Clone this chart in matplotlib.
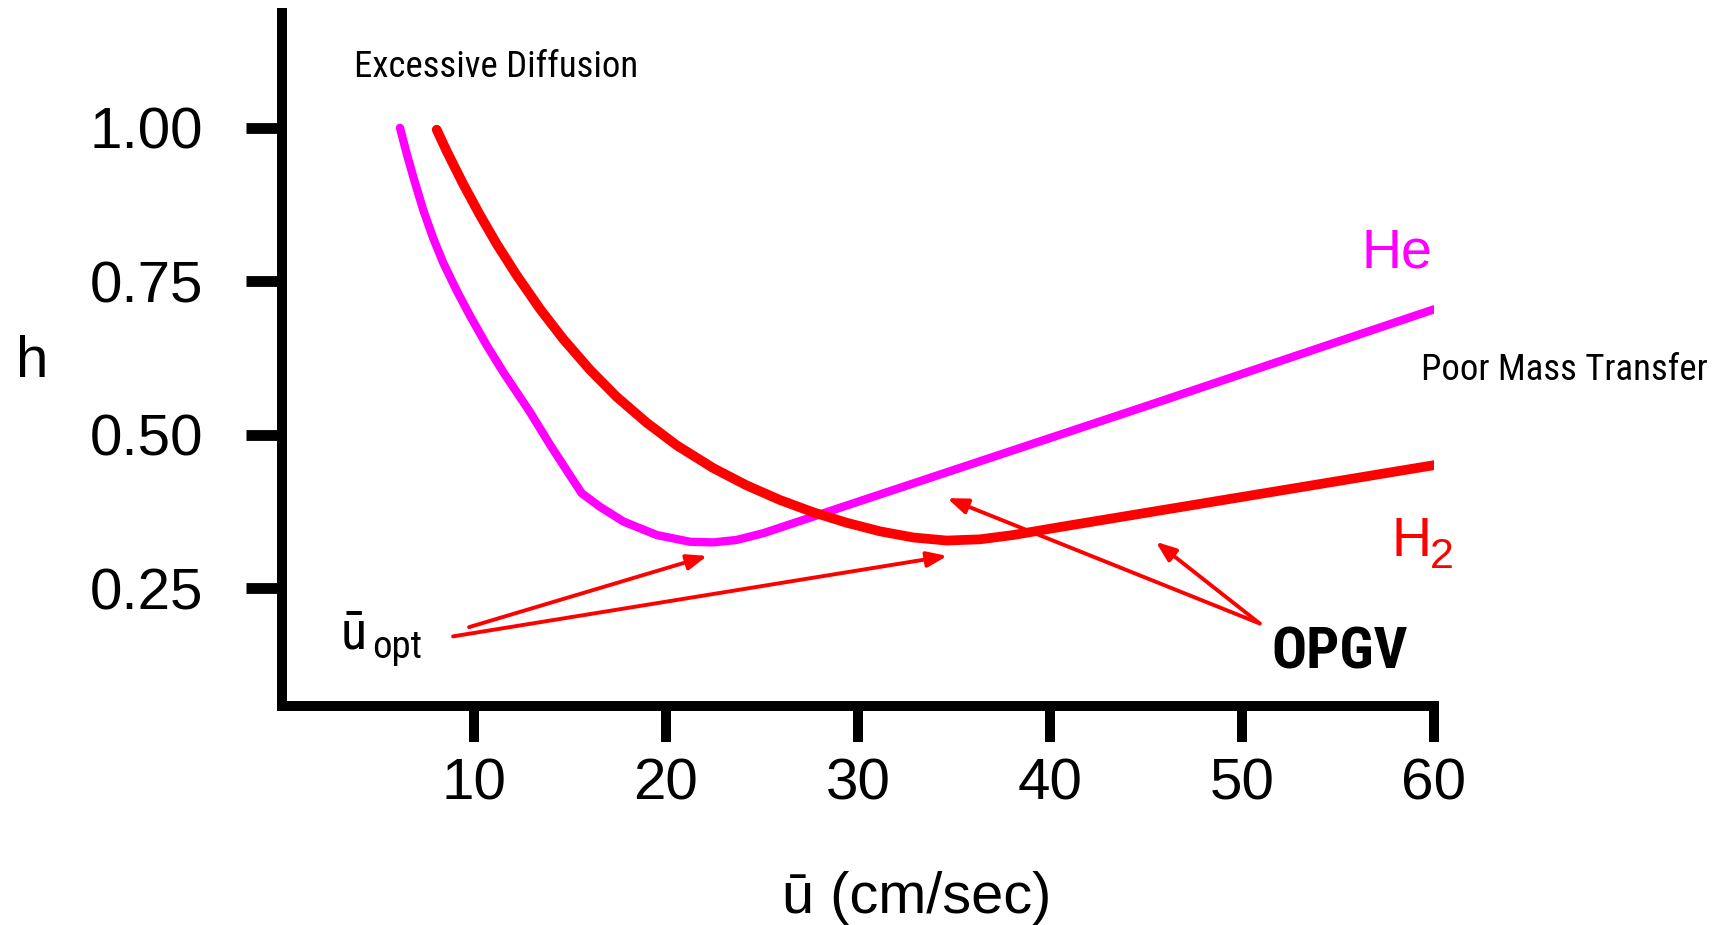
import matplotlib
matplotlib.use("Agg")
import matplotlib.pyplot as plt
from matplotlib import font_manager

# ---------------- data ----------------
he_u = [6.146, 6.495, 6.839, 7.359, 7.880, 8.401, 9.099, 9.792, 10.66, 11.53,
        12.92, 13.96, 15.00, 15.61, 16.56, 17.78, 19.52, 21.25, 22.46, 23.68, 25.07,
        45.21, 60.05]
he_h = [1.000, 0.958, 0.920, 0.866, 0.820, 0.780, 0.735, 0.694, 0.646, 0.602,
        0.537, 0.484, 0.434, 0.405, 0.383, 0.359, 0.337, 0.326, 0.325, 0.329, 0.340,
        0.549, 0.705]

h2_u = [8.057, 8.578, 9.443, 10.31, 11.18, 12.22, 13.44, 14.65, 16.04, 17.43, 18.99,
        20.56, 22.46, 24.19, 25.94, 27.67, 29.41, 31.15, 32.88, 34.62, 36.35, 38.09,
        40.52, 60.05]
h2_h = [0.997, 0.962, 0.908, 0.858, 0.811, 0.760, 0.705, 0.656, 0.606, 0.562, 0.520,
        0.483, 0.446, 0.418, 0.394, 0.374, 0.357, 0.343, 0.333, 0.328, 0.330, 0.337,
        0.350, 0.451]

x_ticks = [10, 20, 30, 40, 50, 60]
x_ticklabels = ["10", "20", "30", "40", "50", "60"]
y_ticks = [0.25, 0.50, 0.75, 1.00]
y_ticklabels = ["0.25", "0.50", "0.75", "1.00"]

# arrows: (tail_u, tail_h) -> (tip_u, tip_h)
uopt_tails = [(9.74, 0.187), (8.91, 0.172)]
uopt_tips = [(22.15, 0.303), (34.65, 0.303)]
opgv_tail = (50.92, 0.193)
opgv_tips = [(34.65, 0.397), (45.51, 0.326)]

# ---------------- fonts ----------------
names = {f.name for f in font_manager.fontManager.ttflist}
REG = "Liberation Sans" if "Liberation Sans" in names else "DejaVu Sans"
NARROW = None
for cand in ["Liberation Sans Narrow", "Roboto Condensed", "Open Sans Condensed",
             "DejaVu Sans Condensed"]:
    if cand in names:
        NARROW = cand
        break
narrow_scale = 1.0
if NARROW is None:
    NARROW = REG
    narrow_scale = 0.85

# ---------------- figure ----------------
W, H = 1714, 925
fig = plt.figure(figsize=(W / 100, H / 100), dpi=100)
ax = fig.add_axes([282 / W, 1 - 706 / H, (1434 - 282) / W, (706 - 13) / H])
ax.set_xlim(0, 60)
ax.set_ylim(0.0586, 1.187)

for s in ["top", "right"]:
    ax.spines[s].set_visible(False)
for s in ["left", "bottom"]:
    ax.spines[s].set_linewidth(7.2)
    ax.spines[s].set_color("black")

ax.set_xticks(x_ticks)
ax.set_xticklabels(x_ticklabels, fontsize=42, family=REG)
ax.set_yticks(y_ticks)
ax.set_yticklabels(y_ticklabels, fontsize=42, family=REG)
ax.tick_params(axis="x", length=26, width=7.2, pad=11, direction="out")
ax.tick_params(axis="y", length=26, width=7.8, pad=31, direction="out")

ax.plot(he_u, he_h, color="#FF00FF", lw=6.0, solid_capstyle="round",
        solid_joinstyle="round", zorder=3)
ax.plot(h2_u, h2_h, color="#FF0000", lw=7.0, solid_capstyle="round",
        solid_joinstyle="round", zorder=3)

aprops = dict(arrowstyle="-|>,head_length=0.6,head_width=0.23", lw=2.8,
              color="#FF0000", shrinkA=0, shrinkB=0, mutation_scale=20)
for tail, tip in zip(uopt_tails, uopt_tips):
    ax.annotate("", xy=tip, xytext=tail, arrowprops=aprops, zorder=4)
for tip in opgv_tips:
    ax.annotate("", xy=tip, xytext=opgv_tail, arrowprops=aprops, zorder=4)

# ---------------- text ----------------
ax.text(3.75, 1.0836, "Excessive Diffusion", fontsize=26.5 * narrow_scale, family=NARROW,
        ha="left", va="baseline", clip_on=False)
ax.text(59.32, 0.5896, "Poor Mass Transfer", fontsize=26.5 * narrow_scale, family=NARROW,
        ha="left", va="baseline", clip_on=False)
ax.text(56.25, 0.772, "He", fontsize=40, family=REG, color="#FF00FF",
        ha="left", va="baseline")
ax.text(57.79, 0.3027, "H", fontsize=40, family=REG, color="#FF0000",
        ha="left", va="baseline")
ax.text(59.78, 0.283, "2", fontsize=31, family=REG, color="#FF0000",
        ha="left", va="baseline", clip_on=False)
ax.text(51.51, 0.120, "OPGV", fontsize=42 * narrow_scale, family=NARROW, weight="bold",
        ha="left", va="baseline")
ax.text(3.07, 0.153, "\u016b", fontsize=39 * narrow_scale, family=NARROW,
        ha="left", va="baseline")
ax.text(4.69, 0.136, "opt", fontsize=28 * narrow_scale, family=NARROW,
        ha="left", va="baseline")

fig.text(15.6 / W, 1 - 377 / H, "h", fontsize=42, family=REG, ha="left", va="baseline")
fig.text(782 / W, 1 - 913 / H, "\u016b (cm/sec)", fontsize=41.5, family=REG,
         ha="left", va="baseline")

fig.savefig("out.png", dpi=100, facecolor="white")
